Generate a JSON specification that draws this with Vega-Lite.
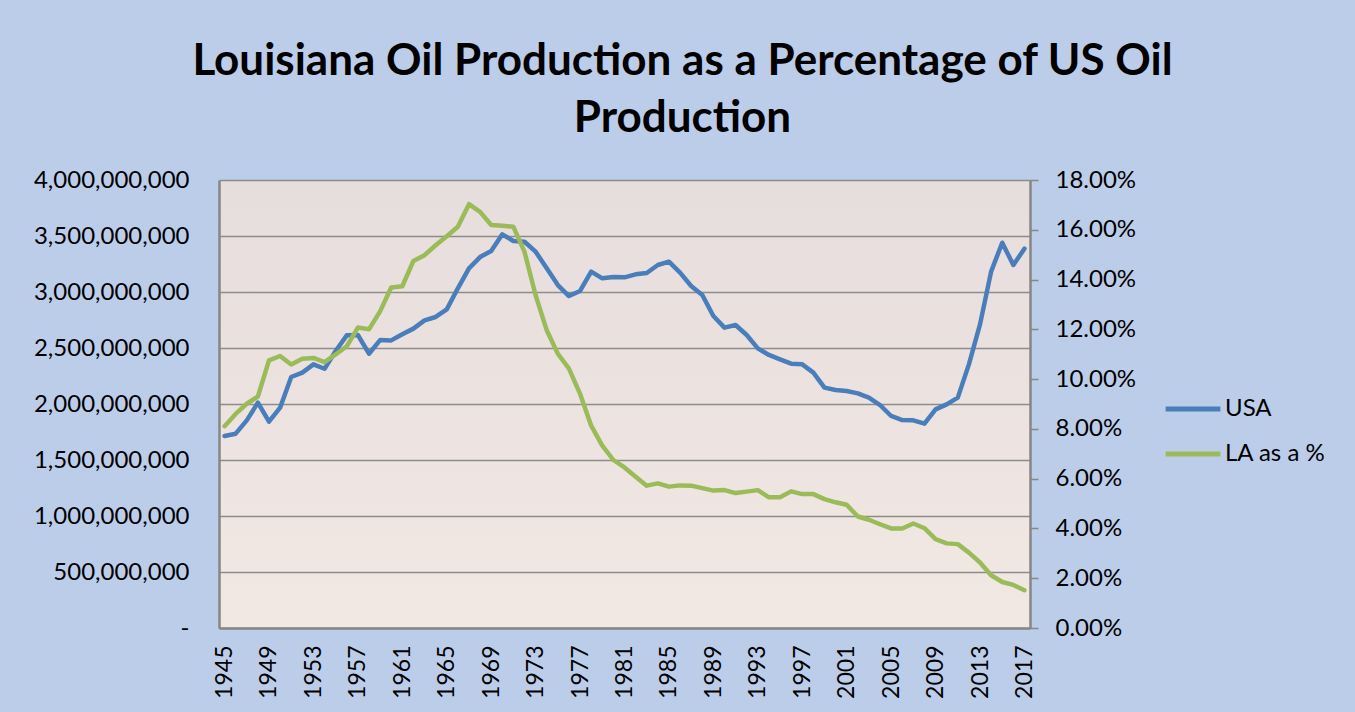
{
  "$schema": "https://vega.github.io/schema/vega-lite/v6.json",
  "width": 811,
  "height": 448,
  "autosize": {"type": "none"},
  "padding": {"left": 219, "top": 180, "right": 325, "bottom": 84},
  "background": "#bccdea",
  "title": {
    "text": ["Louisiana Oil Production as a Percentage of US Oil", "Production"],
    "font": "Lato",
    "fontWeight": "bold",
    "fontSize": 44,
    "lineHeight": 57,
    "color": "#000000",
    "anchor": "middle",
    "frame": "group",
    "dx": 58,
    "offset": 27
  },
  "config": {
    "font": "Lato",
    "view": {
      "stroke": null,
      "fill": {
        "gradient": "linear",
        "x1": 0, "y1": 0, "x2": 0, "y2": 1,
        "stops": [
          {"offset": 0, "color": "#e6dddd"},
          {"offset": 1, "color": "#f2e8e3"}
        ]
      }
    }
  },
  "data": {
    "values": [
      {"year": 1945, "usa": 1714000000, "la": 0.0811},
      {"year": 1946, "usa": 1735000000, "la": 0.0860},
      {"year": 1947, "usa": 1854000000, "la": 0.0901},
      {"year": 1948, "usa": 2012000000, "la": 0.0930},
      {"year": 1949, "usa": 1842000000, "la": 0.1075},
      {"year": 1950, "usa": 1967000000, "la": 0.1093},
      {"year": 1951, "usa": 2241000000, "la": 0.1059},
      {"year": 1952, "usa": 2280000000, "la": 0.1082},
      {"year": 1953, "usa": 2354000000, "la": 0.1085},
      {"year": 1954, "usa": 2315000000, "la": 0.1068},
      {"year": 1955, "usa": 2473000000, "la": 0.1099},
      {"year": 1956, "usa": 2613000000, "la": 0.1132},
      {"year": 1957, "usa": 2616000000, "la": 0.1207},
      {"year": 1958, "usa": 2449000000, "la": 0.1200},
      {"year": 1959, "usa": 2571000000, "la": 0.1272},
      {"year": 1960, "usa": 2568000000, "la": 0.1368},
      {"year": 1961, "usa": 2622000000, "la": 0.1373},
      {"year": 1962, "usa": 2673000000, "la": 0.1475},
      {"year": 1963, "usa": 2747000000, "la": 0.1498},
      {"year": 1964, "usa": 2777000000, "la": 0.1538},
      {"year": 1965, "usa": 2845000000, "la": 0.1574},
      {"year": 1966, "usa": 3033000000, "la": 0.1612},
      {"year": 1967, "usa": 3211000000, "la": 0.1703},
      {"year": 1968, "usa": 3312000000, "la": 0.1672},
      {"year": 1969, "usa": 3366000000, "la": 0.1619},
      {"year": 1970, "usa": 3515000000, "la": 0.1616},
      {"year": 1971, "usa": 3455000000, "la": 0.1612},
      {"year": 1972, "usa": 3449000000, "la": 0.1511},
      {"year": 1973, "usa": 3360000000, "la": 0.1337},
      {"year": 1974, "usa": 3211000000, "la": 0.1196},
      {"year": 1975, "usa": 3062000000, "la": 0.1102},
      {"year": 1976, "usa": 2964000000, "la": 0.1042},
      {"year": 1977, "usa": 3009000000, "la": 0.0941},
      {"year": 1978, "usa": 3182000000, "la": 0.0813},
      {"year": 1979, "usa": 3122000000, "la": 0.0733},
      {"year": 1980, "usa": 3134000000, "la": 0.0675},
      {"year": 1981, "usa": 3131000000, "la": 0.0645},
      {"year": 1982, "usa": 3158000000, "la": 0.0608},
      {"year": 1983, "usa": 3170000000, "la": 0.0572},
      {"year": 1984, "usa": 3241000000, "la": 0.0581},
      {"year": 1985, "usa": 3271000000, "la": 0.0568},
      {"year": 1986, "usa": 3173000000, "la": 0.0573},
      {"year": 1987, "usa": 3054000000, "la": 0.0572},
      {"year": 1988, "usa": 2973000000, "la": 0.0562},
      {"year": 1989, "usa": 2786000000, "la": 0.0552},
      {"year": 1990, "usa": 2682000000, "la": 0.0554},
      {"year": 1991, "usa": 2705000000, "la": 0.0542},
      {"year": 1992, "usa": 2616000000, "la": 0.0548},
      {"year": 1993, "usa": 2497000000, "la": 0.0554},
      {"year": 1994, "usa": 2438000000, "la": 0.0525},
      {"year": 1995, "usa": 2399000000, "la": 0.0525},
      {"year": 1996, "usa": 2360000000, "la": 0.0549},
      {"year": 1997, "usa": 2354000000, "la": 0.0538},
      {"year": 1998, "usa": 2280000000, "la": 0.0538},
      {"year": 1999, "usa": 2146000000, "la": 0.0518},
      {"year": 2000, "usa": 2125000000, "la": 0.0505},
      {"year": 2001, "usa": 2116000000, "la": 0.0495},
      {"year": 2002, "usa": 2095000000, "la": 0.0448},
      {"year": 2003, "usa": 2057000000, "la": 0.0435},
      {"year": 2004, "usa": 1991000000, "la": 0.0417},
      {"year": 2005, "usa": 1893000000, "la": 0.0400},
      {"year": 2006, "usa": 1857000000, "la": 0.0400},
      {"year": 2007, "usa": 1854000000, "la": 0.0420},
      {"year": 2008, "usa": 1824000000, "la": 0.0401},
      {"year": 2009, "usa": 1952000000, "la": 0.0357},
      {"year": 2010, "usa": 1997000000, "la": 0.0340},
      {"year": 2011, "usa": 2057000000, "la": 0.0337},
      {"year": 2012, "usa": 2354000000, "la": 0.0303},
      {"year": 2013, "usa": 2711000000, "la": 0.0263},
      {"year": 2014, "usa": 3182000000, "la": 0.0212},
      {"year": 2015, "usa": 3440000000, "la": 0.0185},
      {"year": 2016, "usa": 3241000000, "la": 0.0173},
      {"year": 2017, "usa": 3387000000, "la": 0.0152}
    ]
  },
  "encoding": {
    "x": {
      "field": "year",
      "type": "quantitative",
      "scale": {"domain": [1944.5, 2017.5], "nice": false, "zero": false},
      "axis": {
        "title": null,
        "values": [1945, 1949, 1953, 1957, 1961, 1965, 1969, 1973, 1977, 1981, 1985, 1989, 1993, 1997, 2001, 2005, 2009, 2013, 2017],
        "format": "d",
        "labelAngle": 270,
        "labelAlign": "right",
        "labelBaseline": "middle",
        "labelFontSize": 23,
        "labelColor": "#000000",
        "labelPadding": 17,
        "ticks": false,
        "grid": false,
        "domainColor": "#868686",
        "domainWidth": 2.5,
        "labelOverlap": false,
        "labelFlush": false
      }
    }
  },
  "layer": [
    {
      "mark": {"type": "line", "strokeWidth": 4.5, "strokeJoin": "round", "strokeCap": "round"},
      "encoding": {
        "y": {
          "field": "usa",
          "type": "quantitative",
          "scale": {"domain": [0, 4000000000], "nice": false},
          "axis": {
            "title": null,
            "orient": "left",
            "values": [0, 500000000, 1000000000, 1500000000, 2000000000, 2500000000, 3000000000, 3500000000, 4000000000],
            "labelExpr": "datum.value == 0 ? '-' : format(datum.value, ',')",
            "labelFontSize": 24,
            "labelColor": "#000000",
            "labelPadding": 30,
            "ticks": false,
            "grid": true,
            "gridColor": "#8c8c8c",
            "gridWidth": 1.5,
            "domainColor": "#868686",
            "domainWidth": 2.5
          }
        },
        "color": {"datum": "USA"}
      }
    },
    {
      "mark": {"type": "line", "strokeWidth": 4.5, "strokeJoin": "round", "strokeCap": "round"},
      "encoding": {
        "y": {
          "field": "la",
          "type": "quantitative",
          "scale": {"domain": [0, 0.18], "nice": false},
          "axis": {
            "title": null,
            "orient": "right",
            "values": [0, 0.02, 0.04, 0.06, 0.08, 0.10, 0.12, 0.14, 0.16, 0.18],
            "format": ".2%",
            "labelFontSize": 24,
            "labelColor": "#000000",
            "labelPadding": 17,
            "ticks": true,
            "tickSize": 8,
            "tickColor": "#868686",
            "tickWidth": 1.5,
            "grid": false,
            "domainColor": "#868686",
            "domainWidth": 2.5
          }
        },
        "color": {
          "datum": "LA as a %",
          "scale": {"domain": ["USA", "LA as a %"], "range": ["#4a7ebb", "#9bbb59"]},
          "legend": {
            "title": null,
            "orient": "none",
            "legendX": 944,
            "legendY": 199,
            "symbolType": "stroke",
            "symbolStrokeWidth": 5,
            "symbolSize": 3000,
            "labelFontSize": 24,
            "labelColor": "#000000",
            "labelOffset": 2,
            "rowPadding": 3,
            "labelLimit": 200
          }
        }
      }
    }
  ],
  "resolve": {"scale": {"y": "independent"}}
}
